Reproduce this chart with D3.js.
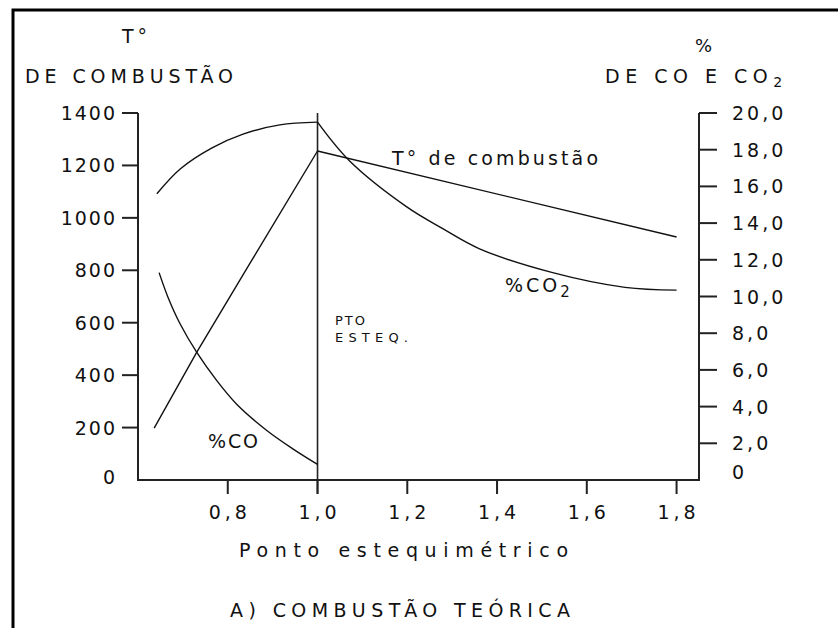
<!DOCTYPE html>
<html>
<head>
<meta charset="utf-8">
<script src="https://cdn.jsdelivr.net/npm/d3@7"></script>
<style>
  body { margin: 0; background: #fff; }
  text { font-family: "DejaVu Sans", sans-serif; fill: #111; }
</style>
</head>
<body>
<div id="chart"></div>
<script>
// data
var xTicks = [0.8, 1.0, 1.2, 1.4, 1.6, 1.8];
var tempTicks = [0, 200, 400, 600, 800, 1000, 1200, 1400];
var pctTicks = [0, 2, 4, 6, 8, 10, 12, 14, 16, 18, 20];

// T° de combustão (left axis)
var tempRich = [[0.636, 198], [0.731, 488], [0.85, 828], [1.0, 1255]];
var tempLean = [[1.0, 1255], [1.8, 927]];
// %CO2 (right axis)
var co2Rich = [[0.642, 15.6], [0.694, 16.95], [0.765, 18.1], [0.834, 18.85], [0.916, 19.35], [1.0, 19.5]];
var co2Lean = [[1.0, 19.5], [1.071, 17.4], [1.198, 14.9], [1.279, 13.7], [1.361, 12.6], [1.524, 11.3], [1.685, 10.5], [1.8, 10.35]];
// %CO (right axis)
var coRich = [[0.647, 11.3], [0.667, 9.95], [0.694, 8.5], [0.731, 6.95], [0.776, 5.4], [0.821, 4.1], [0.887, 2.7], [0.945, 1.7], [1.0, 0.85]];

var width = 838, height = 628;

const svg = d3.select('#chart')
    .append('svg')
    .attr('width', width)
    .attr('height', height)

// frame (only top and left are in view)
svg.append('rect')
    .attr('x', 13).attr('y', 10)
    .attr('width', 900).attr('height', 700)
    .attr('fill', 'none')
    .attr('stroke', '#000')
    .attr('stroke-width', 3)

var x = d3.scaleLinear().domain([0.6, 1.85]).range([138, 699])
var yL = d3.scaleLinear().domain([0, 1400]).range([480, 113])
var yR = d3.scaleLinear().domain([0, 20]).range([480, 113])

var comma = function (f) { return function (d) { return d3.format(f)(d).replace('.', ','); }; };

// axes, drawn by hand to get the old plotter look
var axisG = svg.append('g').attr('stroke', '#222').attr('stroke-width', 2)

axisG.append('path')
    .attr('fill', 'none')
    .attr('d', `M${x.range()[0]},${yL(1400)}V${yL(0)}H${x.range()[1]}V${yR(20)}`)

axisG.selectAll('.tl')
    .data(tempTicks.filter(d => d > 0))
    .enter().append('line')
    .attr('x1', x.range()[0] - 16).attr('x2', x.range()[0])
    .attr('y1', d => yL(d)).attr('y2', d => yL(d))

axisG.selectAll('.tr')
    .data(pctTicks.filter(d => d > 0))
    .enter().append('line')
    .attr('x1', x.range()[1]).attr('x2', x.range()[1] + 18)
    .attr('y1', d => yR(d)).attr('y2', d => yR(d))

axisG.selectAll('.tb')
    .data(xTicks)
    .enter().append('line')
    .attr('x1', d => x(d)).attr('x2', d => x(d))
    .attr('y1', yL(0)).attr('y2', yL(0) + 14)

// stoichiometric line
axisG.append('line')
    .attr('stroke-width', 1.6)
    .attr('x1', x(1.0)).attr('x2', x(1.0))
    .attr('y1', yL(1400)).attr('y2', yL(0) + 14)

// tick labels
svg.selectAll('.ltl')
    .data(tempTicks)
    .enter().append('text')
    .attr('x', 117)
    .attr('y', d => yL(d) + 7 - (d === 0 ? 3 : 0))
    .attr('text-anchor', 'end')
    .style('font-size', '19px')
    .style('letter-spacing', '2px')
    .text(d => d)

svg.selectAll('.rtl')
    .data(pctTicks)
    .enter().append('text')
    .attr('x', 732)
    .attr('y', d => yR(d) + 7 - (d === 0 ? 8 : 0))
    .style('font-size', '19px')
    .style('letter-spacing', '3px')
    .text(d => d === 0 ? '0' : comma('.1f')(d))

svg.selectAll('.btl')
    .data(xTicks)
    .enter().append('text')
    .attr('x', d => x(d) + 2)
    .attr('y', 519)
    .attr('text-anchor', 'middle')
    .style('font-size', '19px')
    .style('letter-spacing', '4px')
    .text(d => comma('.1f')(d))

// curves
var lineL = d3.line().x(d => x(d[0])).y(d => yL(d[1]))
var lineR = d3.line().x(d => x(d[0])).y(d => yR(d[1])).curve(d3.curveCatmullRom.alpha(0.5))

var curves = svg.append('g')
    .attr('fill', 'none')
    .attr('stroke', '#111')
    .attr('stroke-width', 1.4)

curves.append('path').attr('d', lineL(tempRich))
curves.append('path').attr('d', lineL(tempLean))
curves.append('path').attr('d', lineR(co2Rich))
curves.append('path').attr('d', lineR(co2Lean))
curves.append('path').attr('d', lineR(coRich))

// texts; len forces the width seen in the picture
function label(str, px, py, size, len, anchor) {
    var t = svg.append('text')
        .attr('x', px).attr('y', py)
        .attr('text-anchor', anchor || 'start')
        .style('font-size', size + 'px')
        .text(str)
    if (len) t.attr('textLength', len).attr('lengthAdjust', 'spacing')
    return t
}

label('T°', 122, 43, 19, 25)
label('DE COMBUSTÃO', 25, 83, 19, 208)
label('%', 695, 52, 18)
var rt = label('DE CO E CO', 605, 83, 19).style('letter-spacing', '5.5px')
rt.append('tspan').attr('dy', 4).style('font-size', '14px').style('letter-spacing', '0px').text('2')

label('T° de combustão', 392, 165, 19, 206)
label('%CO', 208, 448, 19, 50)
var c2 = label('%CO', 505, 292, 19).style('letter-spacing', '3px')
c2.append('tspan').attr('dy', 5).style('font-size', '15px').style('letter-spacing', '0px').text('2')

label('PTO', 335, 325, 13, 30)
label('ESTEQ.', 335, 342, 13, 73)

label('Ponto estequimétrico', 239, 557, 19, 329)
label('A) COMBUSTÃO TEÓRICA', 230, 617, 19, 340)
</script>
</body>
</html>
